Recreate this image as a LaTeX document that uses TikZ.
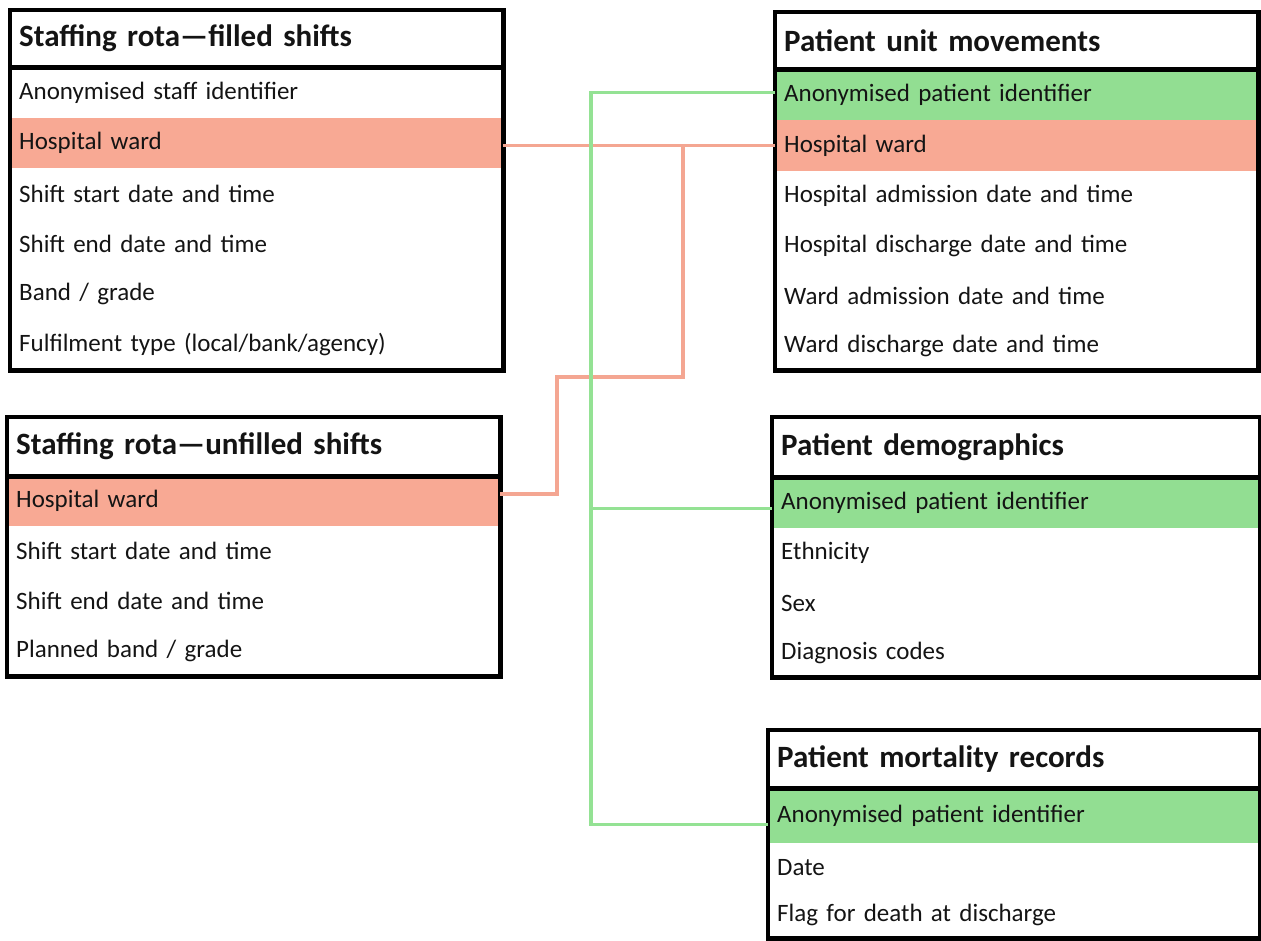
\documentclass[tikz,border=0pt]{standalone}
\usepackage{fontspec}
\setmainfont{Carlito}
\definecolor{salmon}{RGB}{248,169,148}
\definecolor{salmonline}{RGB}{244,166,146}
\definecolor{greenfill}{RGB}{146,222,146}
\definecolor{greenline}{RGB}{148,226,148}
\definecolor{ink}{RGB}{20,20,20}
\tikzset{
  frame/.style={draw=black, line width=4.5pt},
  cell/.style={rectangle, anchor=north west, inner xsep=9pt, inner ysep=0pt, align=left, text=ink, font=\fontsize{25}{30}\selectfont},
  hdrcell/.style={cell, font=\fontsize{31}{36}\selectfont\bfseries},
  redlink/.style={draw=salmonline, line width=3.5pt},
  greenlink/.style={draw=greenline, line width=3.5pt},
}
\begin{document}
\begin{tikzpicture}[x=1pt,y=-1pt]
\useasboundingbox (0,0) rectangle (1261,941);

% ---------- Box 1: Staffing rota - filled shifts
\begin{scope}[every node/.append style={text width=475pt}]
\node[hdrcell, minimum height=57pt] (a0) at (10,10) {Staffing rota---filled shifts};
\node[cell, minimum height=50.5pt] (a1) at (10,67) {Anonymised staff identifier};
\node[cell, minimum height=50.5pt, fill=salmon] (a2) at (10,117.5) {Hospital ward};
\node[cell, minimum height=50.5pt] (a3) at (10,168) {Shift start date and time};
\node[cell, minimum height=50.5pt] (a4) at (10,218.5) {Shift end date and time};
\node[cell, minimum height=50.5pt] (a5) at (10,269) {Band / grade};
\node[cell, minimum height=50.5pt] (a6) at (10,319.5) {Fulfilment type (local/bank/agency)};
\end{scope}
\draw[frame] (a0.north west) rectangle (a6.south east);
\draw[frame] (a0.south west) -- (a0.south east);

% ---------- Box 2: Staffing rota - unfilled shifts
\begin{scope}[every node/.append style={text width=475pt}]
\node[hdrcell, minimum height=59pt] (b0) at (7,417) {Staffing rota---unfilled shifts};
\node[cell, minimum height=50pt, fill=salmon] (b1) at (7,476) {Hospital ward};
\node[cell, minimum height=50pt] (b2) at (7,526) {Shift start date and time};
\node[cell, minimum height=50pt] (b3) at (7,576) {Shift end date and time};
\node[cell, minimum height=50pt] (b4) at (7,626) {Planned band / grade};
\end{scope}
\draw[frame] (b0.north west) rectangle (b4.south east);
\draw[frame] (b0.south west) -- (b0.south east);

% ---------- Box 3: Patient unit movements
\begin{scope}[every node/.append style={text width=465pt, inner xsep=8pt}]
\node[hdrcell, minimum height=57pt] (c0) at (775,12) {Patient unit movements};
\node[cell, minimum height=51pt, fill=greenfill] (c1) at (775,69) {Anonymised patient identifier};
\node[cell, minimum height=51pt, fill=salmon] (c2) at (775,120) {Hospital ward};
\node[cell, minimum height=50pt] (c3) at (775,171) {Hospital admission date and time};
\node[cell, minimum height=50pt] (c4) at (775,221) {Hospital discharge date and time};
\node[cell, minimum height=50pt] (c5) at (775,271) {Ward admission date and time};
\node[cell, minimum height=49pt] (c6) at (775,321) {Ward discharge date and time};
\end{scope}
\draw[frame] (c0.north west) rectangle (c6.south east);
\draw[frame] (c0.south west) -- (c0.south east);

% ---------- Box 4: Patient demographics
\begin{scope}[every node/.append style={text width=470pt, inner xsep=8pt}]
\node[hdrcell, minimum height=60pt] (d0) at (772,417) {Patient demographics};
\node[cell, minimum height=51pt, fill=greenfill] (d1) at (772,477) {Anonymised patient identifier};
\node[cell, minimum height=50pt] (d2) at (772,528) {Ethnicity};
\node[cell, minimum height=50pt] (d3) at (772,578) {Sex};
\node[cell, minimum height=49pt] (d4) at (772,628) {Diagnosis codes};
\end{scope}
\draw[frame] (d0.north west) rectangle (d4.south east);
\draw[frame] (d0.south west) -- (d0.south east);

% ---------- Box 5: Patient mortality records
\begin{scope}[every node/.append style={text width=474pt, inner xsep=8pt}]
\node[hdrcell, minimum height=58pt] (e0) at (768,730) {Patient mortality records};
\node[cell, minimum height=55pt, fill=greenfill] (e1) at (768,788) {Anonymised patient identifier};
\node[cell, minimum height=48pt] (e2) at (768,843) {Date};
\node[cell, minimum height=47pt] (e3) at (768,891) {Flag for death at discharge};
\end{scope}
\draw[frame] (e0.north west) rectangle (e3.south east);
\draw[frame] (e0.south west) -- (e0.south east);

% ---------- salmon links (hospital ward)
\coordinate (s1) at (557,377);
\coordinate (s2) at (683,377);
\draw[redlink] (a2.east |- c2.west) -- (c2.west);
\draw[redlink] ([yshift=7pt]b1.east) -- ([yshift=7pt]b1.east -| s1) -- (s1) -- (s2) -- (s2 |- c2.west);

% ---------- green links (patient identifier)
\coordinate (g) at (591,0);
\draw[greenlink] ([yshift=2pt]c1.west) -- ([yshift=2pt]c1.west -| g) -- ([yshift=-9pt]g |- e1.west) -- ([yshift=-9pt]e1.west);
\draw[greenlink] ([yshift=-6pt]g |- d1.west) -- ([yshift=-6pt]d1.west);
\end{tikzpicture}
\end{document}
